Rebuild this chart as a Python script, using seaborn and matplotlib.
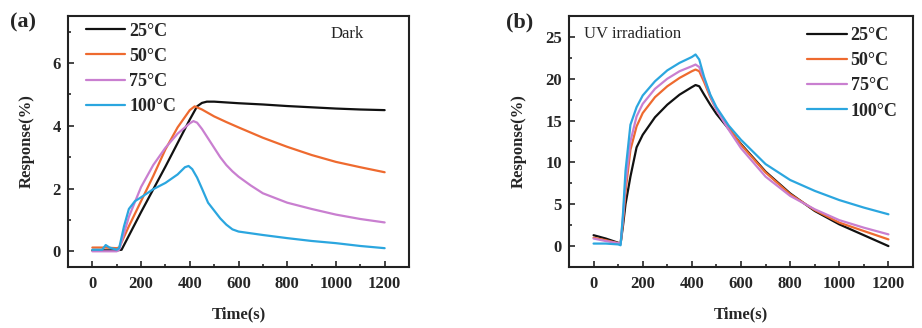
import matplotlib
matplotlib.use("Agg")
import matplotlib.pyplot as plt
import seaborn as sns
from matplotlib.ticker import MultipleLocator

sns.set_theme(style="ticks")
plt.rcParams['font.family'] = ['Liberation Serif', 'DejaVu Serif']

labels = ["25°C", "50°C", "75°C", "100°C"]
colors = ["#111111", "#EE6A2F", "#C97FD0", "#2BA6DF"]

# Panel (a): Dark
a_t25 = [0, 50, 100, 120, 200, 300, 400, 430, 450, 470, 500, 600, 700, 800, 900, 1000, 1100, 1200]
a_v25 = [0.03, 0.03, 0.03, 0.05, 1.25, 2.7, 4.2, 4.62, 4.73, 4.77, 4.77, 4.72, 4.68, 4.63, 4.59, 4.55, 4.52, 4.5]
a_t50 = [0, 50, 100, 110, 150, 200, 250, 300, 350, 400, 420, 450, 500, 550, 600, 700, 800, 900, 1000, 1100, 1200]
a_v50 = [0.12, 0.12, 0.1, 0.12, 0.8, 1.6, 2.4, 3.25, 3.95, 4.5, 4.62, 4.52, 4.3, 4.12, 3.95, 3.62, 3.33, 3.07, 2.85, 2.68, 2.52]
a_t75 = [0, 50, 100, 110, 150, 200, 250, 300, 350, 400, 415, 430, 450, 475, 500, 525, 550, 575, 600, 650, 700, 800, 900, 1000, 1100, 1200]
a_v75 = [0.0, 0.0, 0.0, 0.05, 1.1, 2.05, 2.75, 3.3, 3.75, 4.08, 4.15, 4.1, 3.9, 3.6, 3.3, 3.0, 2.75, 2.55, 2.38, 2.1, 1.85, 1.55, 1.35, 1.17, 1.03, 0.92]
a_t100 = [0, 40, 55, 70, 100, 110, 130, 150, 175, 200, 250, 300, 350, 380, 395, 410, 430, 450, 475, 500, 525, 550, 575, 600, 700, 800, 900, 1000, 1100, 1200]
a_v100 = [0.05, 0.05, 0.2, 0.12, 0.05, 0.1, 0.8, 1.35, 1.6, 1.72, 1.98, 2.18, 2.45, 2.68, 2.72, 2.62, 2.35, 2.0, 1.55, 1.3, 1.05, 0.85, 0.7, 0.63, 0.52, 0.42, 0.33, 0.26, 0.17, 0.1]

# Panel (b): UV irradiation
b_t = [0, 50, 100, 110, 120, 130, 150, 175, 200, 250, 300, 350, 400, 415, 430, 450, 475, 500, 550, 600, 700, 800, 900, 1000, 1100, 1200]
b_v25 = [1.3, 0.9, 0.4, 0.3, 2.5, 5.0, 8.3, 11.8, 13.3, 15.4, 16.9, 18.1, 19.0, 19.25, 19.1, 18.1, 16.9, 15.8, 14.0, 12.2, 8.9, 6.3, 4.2, 2.6, 1.3, 0.0]
b_v50 = [1.0, 0.7, 0.35, 0.3, 3.0, 6.5, 11.5, 14.3, 15.9, 17.8, 19.1, 20.1, 20.9, 21.1, 20.9, 19.6, 17.8, 16.3, 14.2, 12.1, 8.8, 6.2, 4.3, 2.8, 1.8, 0.8]
b_v75 = [0.9, 0.6, 0.35, 0.3, 3.5, 7.5, 12.5, 15.5, 17.0, 18.8, 20.0, 20.9, 21.5, 21.7, 21.4, 20.0, 18.0, 16.3, 13.9, 11.7, 8.3, 6.0, 4.4, 3.1, 2.2, 1.4]
b_v100 = [0.3, 0.3, 0.2, 0.1, 4.0, 9.0, 14.5, 16.6, 18.0, 19.7, 21.0, 21.9, 22.6, 22.9, 22.3, 20.2, 18.1, 16.6, 14.4, 12.7, 9.8, 7.9, 6.6, 5.5, 4.6, 3.8]

fig = plt.figure(figsize=(9.22, 3.28), dpi=100)
ax1 = fig.add_axes([68/922, 1-267/328, 341/922, 251/328])
ax2 = fig.add_axes([569/922, 1-267/328, 344/922, 251/328])

series_a = [(a_t25, a_v25), (a_t50, a_v50), (a_t75, a_v75), (a_t100, a_v100)]
series_b = [(b_t, b_v25), (b_t, b_v50), (b_t, b_v75), (b_t, b_v100)]

for (t, v), lab, c in zip(series_a, labels, colors):
    sns.lineplot(x=t, y=v, ax=ax1, color=c, label=lab, linewidth=1.6)
for (t, v), lab, c in zip(series_b, labels, colors):
    sns.lineplot(x=t, y=v, ax=ax2, color=c, label=lab, linewidth=1.6)

def style(ax, ylim, ymaj, ymin):
    ax.set_xlim(-100, 1300)
    ax.set_ylim(*ylim)
    ax.xaxis.set_major_locator(MultipleLocator(200))
    ax.xaxis.set_minor_locator(MultipleLocator(100))
    ax.yaxis.set_major_locator(MultipleLocator(ymaj))
    ax.yaxis.set_minor_locator(MultipleLocator(ymin))
    ax.tick_params(which='both', direction='in', labelsize=12, width=1.2)
    ax.tick_params(axis='x', which='major', pad=6.5)
    ax.tick_params(axis='y', which='major', pad=5)
    ax.tick_params(which='major', length=4)
    ax.tick_params(which='minor', length=2.5)
    for lbl in ax.get_xticklabels() + ax.get_yticklabels():
        lbl.set_fontweight('bold')
    for s in ax.spines.values():
        s.set_linewidth(1.5)
        s.set_color('#222222')
    ax.set_xlabel("Time(s)", fontsize=12, fontweight='bold', labelpad=10)
    ax.set_ylabel("Response(%)", fontsize=12, fontweight='bold', labelpad=13)

style(ax1, (-0.5, 7.5), 2, 1)
style(ax2, (-2.5, 27.5), 5, 2.5)

ax1.legend(loc='upper left', bbox_to_anchor=(0.015, 1.024), frameon=False,
           handlelength=2.2, handletextpad=0.2, labelspacing=0.45, borderaxespad=0.3,
           prop={'weight': 'bold', 'size': 13})
ax2.legend(loc='upper right', bbox_to_anchor=(1.002, 1.02), frameon=False,
           handlelength=2.2, handletextpad=0.2, labelspacing=0.45, borderaxespad=0.5,
           prop={'weight': 'bold', 'size': 13})

ax1.text(0.82, 0.93, "Dark", transform=ax1.transAxes, fontsize=12, ha='center', va='center')
ax2.text(0.045, 0.928, "UV irradiation", transform=ax2.transAxes, fontsize=12, ha='left', va='center')

fig.text(10/922, 1-22/328, "(a)", fontsize=16, fontweight='bold', va='center', ha='left')
fig.text(506/922, 1-22/328, "(b)", fontsize=16, fontweight='bold', va='center', ha='left')

fig.savefig("out.png", dpi=100)
